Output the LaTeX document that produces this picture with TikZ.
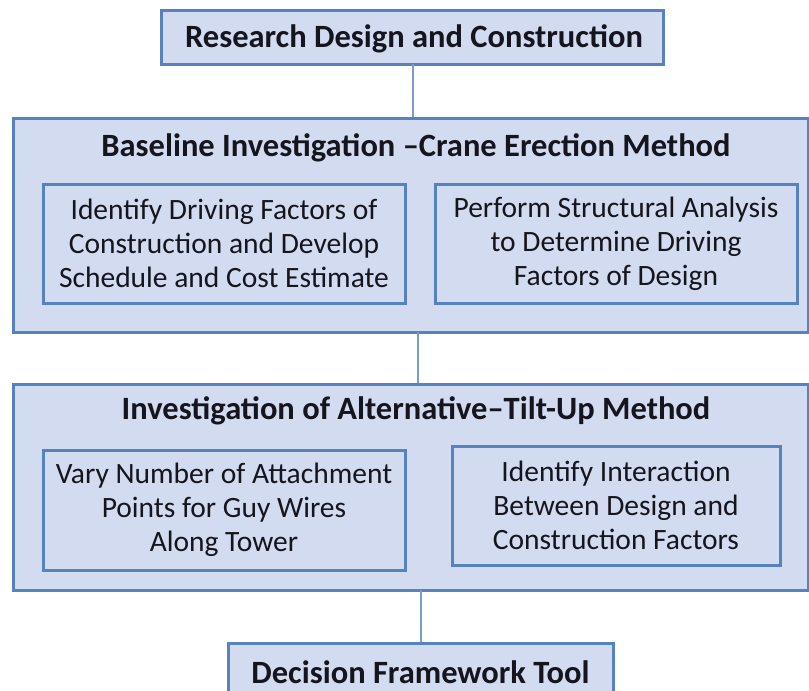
\documentclass[tikz,border=0pt]{standalone}
\usepackage{fontspec}
\setmainfont{Carlito}
\definecolor{boxfill}{HTML}{D2DBF0}
\definecolor{boxline}{HTML}{5683BE}
\definecolor{linkline}{HTML}{7A9CCB}
\definecolor{txt}{HTML}{15151F}
\begin{document}
\begin{tikzpicture}[x=1pt,y=-1pt,
  panel/.style={draw=boxline,line width=3pt,fill=boxfill,rectangle,inner sep=0pt},
  inner/.style={panel,align=center,text=txt,font=\fontsize{29.5}{34}\selectfont},
  ttl/.style={text=txt,font=\fontsize{32.5}{36}\selectfont\bfseries,inner sep=0pt},
  link/.style={draw=linkline,line width=1.8pt}]
\clip (0,0) rectangle (809,691);
\fill[white] (0,0) rectangle (809,691);
% boxes
\node[panel,minimum width=502pt,minimum height=54pt] (top) at (412,37) {};
\node[ttl] (toptxt) at (414,39) {Research Design and Construction};
\node[panel,minimum width=795pt,minimum height=214pt] (base) at (410.5,225) {};
\node[ttl] (basetxt) at (416,148) {Baseline Investigation --Crane Erection Method};
\node[inner,minimum width=362pt,minimum height=119pt] (b1) at (224,243.5)
  {Identify Driving Factors of\\Construction and Develop\\Schedule and Cost Estimate};
\node[inner,minimum width=362pt,minimum height=119pt] (b2) at (616,243.5)
  {Perform Structural Analysis\\to Determine Driving\\Factors of Design};
\node[panel,minimum width=795pt,minimum height=206pt] (alt) at (410.5,487) {};
\node[ttl] (alttxt) at (416,411) {Investigation of Alternative--Tilt-Up Method};
\node[inner,minimum width=362pt,minimum height=120pt] (a1) at (224,510)
  {Vary Number of Attachment\\Points for Guy Wires\\Along Tower};
\node[inner,minimum width=328pt,minimum height=119pt] (a2) at (616,505.5)
  {Identify Interaction\\Between Design and\\Construction Factors};
\node[panel,minimum width=385pt,minimum height=58pt] (dec) at (420.5,672) {};
\node[ttl] (dectxt) at (420.5,672) {Decision Framework Tool};
% connectors
\coordinate (c1) at (413,64);
\coordinate (c2) at (418,332);
\coordinate (c3) at (421,590);
\draw[link] (c1) -- (c1 |- base.north);
\draw[link] (c2) -- (c2 |- alt.north);
\draw[link] (c3) -- (c3 |- dec.north);
\end{tikzpicture}
\end{document}
